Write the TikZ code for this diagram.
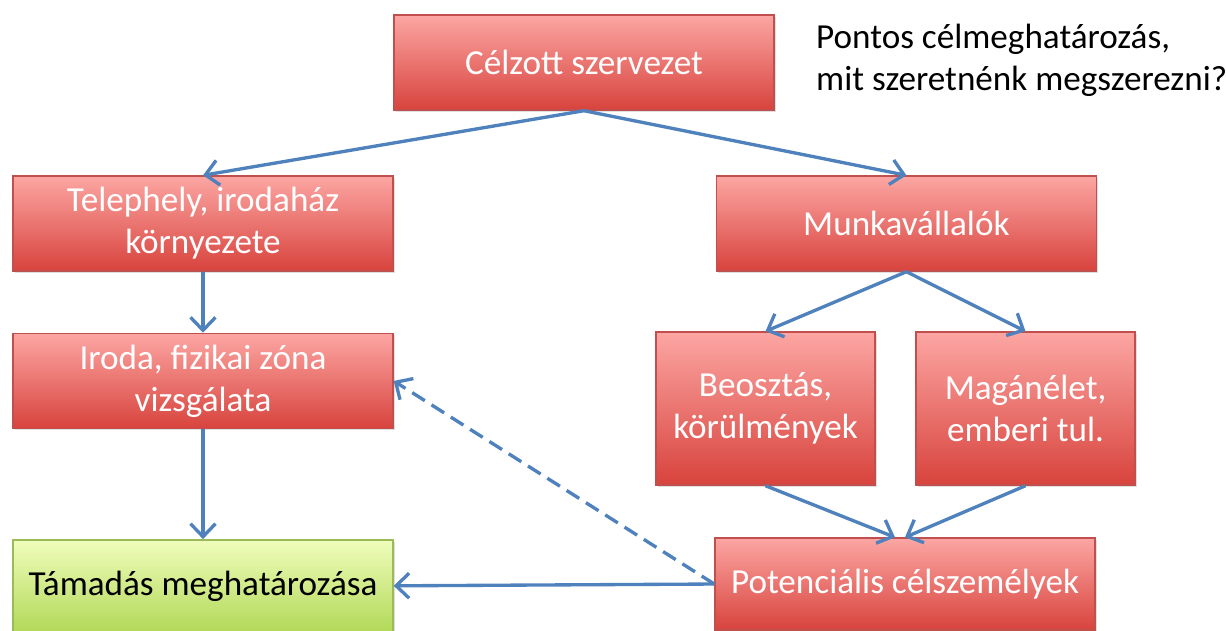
\documentclass[tikz,border=0pt]{standalone}
\usepackage{fontspec}
\setmainfont{Carlito}
\usetikzlibrary{arrows.meta,positioning,shadows}

\definecolor{boxtop}{HTML}{FCA6A3}
\definecolor{boxmiddle}{HTML}{F38F8B}
\definecolor{boxbottom}{HTML}{D8433D}
\definecolor{boxline}{HTML}{C0504D}
\definecolor{greentop}{HTML}{F0FDBC}
\definecolor{greenmiddle}{HTML}{D9F38C}
\definecolor{greenbottom}{HTML}{B2D958}
\definecolor{greenline}{HTML}{9BBB59}
\definecolor{arrowblue}{HTML}{4F81BD}

\begin{document}
\begin{tikzpicture}[redbox/.style = {rectangle, draw = boxline, line width = 0.8pt, top color = boxtop, middle color = boxmiddle, bottom color = boxbottom,
						text = white, align = center, minimum width = 7.6cm, minimum height = 1.9cm,
						font = \fontsize{20}{24}\selectfont,
						drop shadow = {opacity = 0.25, shadow xshift = 1pt, shadow yshift = -1pt}},
						smallbox/.style = {redbox, minimum width = 4.38cm, minimum height = 3.06cm},
						greenbox/.style = {redbox, draw = greenline, top color = greentop, middle color = greenmiddle, bottom color = greenbottom, text = black},
						pathstyle/.style = {draw = arrowblue, line width = 1.9pt, -{Straight Barb[length = 2.6mm, width = 5mm]}},
						notetext/.style = {align = left, font = \fontsize{20}{24}\selectfont}]
		\useasboundingbox (0,0) rectangle (24.52,-12.6);
		% Upper part
		\node (cel) at (11.68,-1.25) [redbox] {Célzott szervezet};
		\node (telep) at (4.06,-4.47) [redbox] {Telephely, irodaház\\környezete};
		\node (munka) [redbox, right = 6.44cm of telep] {Munkavállalók};
		\node (note) at (16.2,-0.35) [notetext, anchor = north west] {Pontos célmeghatározás,\\mit szeretnénk megszerezni?};
		% Left branch
		\node (iroda) [redbox, below = 1.22cm of telep] {Iroda, fizikai zóna\\vizsgálata};
		\node (tamad) [greenbox, below = 2.2cm of iroda, minimum height = 1.84cm] {Támadás meghatározása};
		% Right branch
		\node (beo) at (15.31,-8.17) [smallbox] {Beosztás,\\körülmények};
		\node (magan) at (20.51,-8.17) [smallbox] {Magánélet,\\emberi tul.};
		\node (poten) at (18.1,-11.68) [redbox, minimum height = 1.84cm] {Potenciális célszemélyek};
		% Connectors
		\draw [pathstyle] (cel.south) -- (telep.north);
		\draw [pathstyle] (cel.south) -- (munka.north);
		\draw [pathstyle] (telep) -- (iroda);
		\draw [pathstyle] (iroda) -- (tamad);
		\draw [pathstyle] (munka.south) -- (beo.north);
		\draw [pathstyle] (munka.south) -- (magan.north);
		\draw [pathstyle] (beo.south) -- ([xshift = -0.2cm]poten.north);
		\draw [pathstyle] (magan.south) -- (poten.north);
		\draw [pathstyle] (poten.west) -- (tamad.east);
		\draw [pathstyle, dashed, dash pattern = on 8.5pt off 4.5pt] (poten.west) -- (iroda.east);
	\end{tikzpicture}
\end{document}
